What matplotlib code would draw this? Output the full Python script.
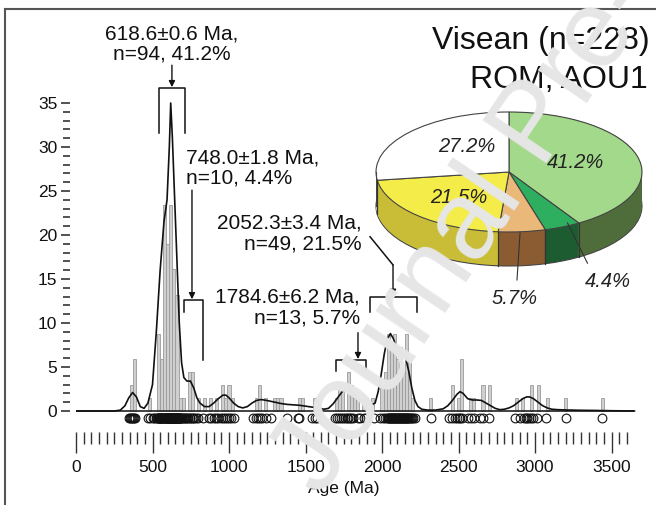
import matplotlib
matplotlib.use('Agg')
import matplotlib.pyplot as plt
from matplotlib.ticker import FixedLocator
from matplotlib.lines import Line2D
import numpy as np

plt.rcParams['font.family'] = ['Liberation Sans', 'DejaVu Sans']

W, H = 656, 505

# ---------------- data ----------------
bin_width = 20
bar_left = [350, 370, 470, 530, 550, 570, 590, 610, 630, 650, 670, 690, 730, 750,
            790, 830, 870, 910, 950, 970, 990, 1010, 1170, 1190, 1230, 1290, 1310,
            1330, 1450, 1470, 1550, 1570, 1690, 1710, 1730, 1770, 1790, 1810, 1830,
            1870, 1890, 1930, 1990, 2010, 2030, 2050, 2070, 2090, 2110, 2130, 2150,
            2170, 2190, 2310, 2450, 2490, 2510, 2570, 2590, 2650, 2690, 2870, 2910,
            2970, 3010, 3070, 3190, 3430]
bar_height = [2.9, 5.9, 1.5, 8.8, 5.9, 23.4, 19.0, 23.4, 16.1, 13.2, 1.5, 1.5, 4.4, 4.4,
              1.5, 1.5, 1.5, 1.5, 2.9, 1.5, 2.9, 1.5, 1.5, 2.9, 1.5, 1.5, 1.5,
              1.5, 1.5, 1.5, 1.5, 1.5, 1.5, 2.9, 2.9, 4.4, 2.9, 1.5, 1.5,
              1.5, 1.5, 1.5, 2.9, 4.4, 8.8, 7.3, 8.8, 5.9, 7.3, 4.4, 8.8,
              5.9, 1.5, 1.5, 2.9, 1.5, 5.9, 1.5, 1.5, 2.9, 2.9, 1.5, 1.5,
              2.9, 2.9, 1.5, 1.5, 1.5]

kde_age = [0, 250, 290, 320, 345, 370, 395, 420, 445, 470, 500, 525, 550, 575, 595,
           610, 619, 630, 645, 660, 675, 690, 705, 725, 748, 770, 790, 810, 840, 870,
           900, 930, 960, 980, 1000, 1030, 1060, 1090, 1120, 1150, 1180, 1210, 1230,
           1260, 1300, 1340, 1380, 1420, 1460, 1500, 1540, 1580, 1620, 1650, 1680,
           1710, 1740, 1770, 1790, 1810, 1840, 1870, 1900, 1930, 1955, 1975, 1995,
           2015, 2035, 2055, 2075, 2095, 2115, 2135, 2155, 2175, 2195, 2215, 2235,
           2260, 2300, 2350, 2400, 2430, 2460, 2490, 2510, 2530, 2560, 2590, 2620,
           2650, 2680, 2710, 2740, 2770, 2800, 2830, 2860, 2890, 2920, 2945, 2965,
           2990, 3020, 3050, 3080, 3110, 3150, 3200, 3300, 3400, 3500, 3650]
kde_val = [0, 0, 0.1, 0.6, 1.5, 2.1, 1.6, 0.5, 0.3, 0.9, 3.0, 9.0, 16.0, 21.5, 24.0,
           30.0, 35.0, 31.0, 24.0, 17.0, 10.0, 5.5, 3.8, 3.4, 3.4, 2.6, 1.5, 0.9, 0.5, 0.5,
           0.9, 1.4, 1.8, 1.8, 1.5, 0.9, 0.5, 0.35, 0.5, 0.9, 1.2, 1.3,
           1.25, 1.15, 1.0, 0.85, 0.75, 0.7, 0.65, 0.55, 0.45, 0.35, 0.2, 0.3, 0.8,
           1.5, 2.2, 2.5, 2.4, 2.0, 1.5, 1.2, 1.0, 0.7, 0.9, 2.2, 4.2,
           6.5, 8.2, 8.8, 8.2, 7.2, 6.6, 6.5, 6.0, 4.5, 2.6, 1.2, 0.5,
           0.2, 0.1, 0.1, 0.25, 0.6, 1.2, 1.9, 2.2, 2.0, 1.4, 1.25, 1.25,
           1.2, 0.9, 0.6, 0.3, 0.15, 0.2, 0.35, 0.6, 1.0, 1.4, 1.6, 1.6,
           1.4, 1.0, 0.6, 0.35, 0.2, 0.15, 0.12, 0.08, 0.06, 0.03, 0]

grain_ages = [345, 352, 358, 365, 372, 380, 388,
              470, 485, 500, 512, 522,
              531, 534, 537, 540, 543, 546, 549, 552, 555, 558, 561, 564, 567, 570,
              573, 576, 579, 582, 585, 588, 591, 594, 597, 598, 600, 603, 606, 608,
              609, 612, 615, 617, 618, 621, 623, 624, 627, 628, 630, 633, 635, 636,
              639, 642, 644, 645, 648, 651, 654, 655, 657, 660, 662, 663, 666, 669,
              671, 672, 675, 678, 681, 684, 688, 692, 697, 703, 710, 718,
              728, 735, 742, 748, 755, 762, 770, 785, 800, 828,
              870, 885, 900, 915, 930, 945, 960, 972, 985, 998, 1010, 1030,
              1160, 1175, 1188, 1200, 1215, 1245, 1275,
              1380, 1450, 1460, 1545, 1560, 1575,
              1690, 1705, 1720, 1735, 1748, 1760, 1770, 1780, 1790, 1800, 1812,
              1840, 1855, 1880, 1895, 1950,
              1990, 2005, 2020, 2035, 2040, 2044, 2048, 2052, 2056, 2060, 2064, 2068,
              2072, 2076, 2080, 2084, 2088, 2092, 2096, 2100, 2104, 2108, 2112, 2116,
              2120, 2124, 2128, 2132, 2136, 2140, 2144, 2148, 2152, 2156, 2160, 2164,
              2168, 2172, 2176, 2182, 2188, 2195, 2205, 2215,
              2320,
              2440, 2460, 2475, 2490, 2500, 2510, 2525, 2560, 2580, 2600, 2640, 2660, 2700,
              2870, 2900, 2925, 2940, 2950, 2960, 2975, 2990, 3010, 3070,
              3200, 3440]

x_major = [0, 500, 1000, 1500, 2000, 2500, 3000, 3500]
x_minor = [a for a in range(50, 3650, 50) if a % 500]
y_major = [0, 5, 10, 15, 20, 25, 30, 35]
y_minor = [v for v in range(0, 36) if v % 5]

peak_line1 = ["618.6±0.6 Ma,", "748.0±1.8 Ma,", "2052.3±3.4 Ma,", "1784.6±6.2 Ma,"]
peak_line2 = ["n=94, 41.2%", "n=10, 4.4%", "n=49, 21.5%", "n=13, 5.7%"]

pie_values = [41.2, 4.4, 5.7, 21.5, 27.2]
pie_labels = ['41.2%', '4.4%', '5.7%', '21.5%', '27.2%']
pie_top_colors = ['#a3d98a', '#2eaf5f', '#eab878', '#f4ec48', '#ffffff']
pie_side_colors = ['#4f6c3b', '#1c5c30', '#8b5c31', '#c9bd38', '#d0d0d0']

title_line1 = "Visean (n=228)"
title_line2 = "ROM, AOU1"
x_label = "Age (Ma)"
watermark = "Journal Pre-proof"

# ---------------- figure ----------------
fig = plt.figure(figsize=(W / 100, H / 100), dpi=100)


def px_axes(l, t, r, b):
    return fig.add_axes([l / W, 1 - b / H, (r - l) / W, (b - t) / H])


ax = px_axes(76, 85.4, 642.1, 428.6)
ax.set_xlim(0, 3700)
ax.set_ylim(-2, 37)
ax.patch.set_alpha(0)
for s in ['top', 'right']:
    ax.spines[s].set_visible(False)
ax.spines['left'].set_position(('outward', 4.5))
ax.spines['left'].set_color('none')
ax.spines['bottom'].set_position(('outward', 2.5))
ax.spines['bottom'].set_color('none')

ax.yaxis.set_major_locator(FixedLocator(y_major))
ax.yaxis.set_minor_locator(FixedLocator(y_minor))
ax.xaxis.set_major_locator(FixedLocator(x_major))
ax.xaxis.set_minor_locator(FixedLocator(x_minor))
ax.tick_params(axis='y', which='major', direction='out', length=6.5, width=1.2,
               pad=2.5, labelsize=12.5, color='#333', labelcolor='#111')
ax.tick_params(axis='y', which='minor', direction='out', length=5, width=1.2, color='#333')
ax.tick_params(axis='x', which='major', direction='out', length=15, width=1,
               pad=5, labelsize=12.5, color='#333', labelcolor='#111')
ax.tick_params(axis='x', which='minor', direction='out', length=8.5, width=1, color='#333')
ax.set_xlabel(x_label, fontsize=12.5, color='#111', labelpad=0)
ax.xaxis.set_label_coords(1750 / 3700, -0.152)

ax.bar(bar_left, bar_height, width=bin_width, align='edge', color='#cfcfcf',
       edgecolor='#9a9a9a', linewidth=0.6, zorder=1)
ax.hlines(0, kde_age[0], kde_age[-1], color='#222', lw=1.2, zorder=2)
ax.plot(kde_age, kde_val, color='#111', lw=1.2, zorder=3)
ax.plot(grain_ages, np.full(len(grain_ages), -0.8), 'o', ms=6.3, mfc='none',
        mec='#111', mew=0.8, clip_on=False, zorder=3)

lk = dict(color='#111', lw=1.1, clip_on=False, zorder=4)
ak = dict(arrowstyle='-|>', lw=1.0, color='#111', mutation_scale=9, shrinkA=0, shrinkB=0)
tk = dict(fontsize=15, color='#111', clip_on=False)

# peak 1
ax.text(627, 42.2, peak_line1[0], ha='center', va='baseline', **tk)
ax.text(627, 40.0, peak_line2[0], ha='center', va='baseline', **tk)
ax.annotate('', xy=(627, 36.8), xytext=(627, 39.3), arrowprops=ak, annotation_clip=False)
ax.plot([542, 542, 712, 712], [31.6, 36.7, 36.7, 31.6], **lk)
# peak 2
ax.text(719, 28.1, peak_line1[1], ha='left', va='baseline', **tk)
ax.text(719, 25.9, peak_line2[1], ha='left', va='baseline', **tk)
ax.annotate('', xy=(758, 12.7), xytext=(758, 25.1), arrowprops=ak, annotation_clip=False)
ax.plot([706, 706, 830, 830], [11.3, 12.6, 12.6, 5.8], **lk)
# peak 3
ax.text(1869, 20.7, peak_line1[2], ha='right', va='baseline', **tk)
ax.text(1869, 18.4, peak_line2[2], ha='right', va='baseline', **tk)
ax.plot([1922, 2072], [19.8, 16.6], **lk)
ax.annotate('', xy=(2072, 13.1), xytext=(2072, 16.6), arrowprops=ak, annotation_clip=False)
ax.plot([1922, 1922, 2229, 2229], [11.3, 13.0, 13.0, 11.3], **lk)
# peak 4
ax.text(1856, 12.3, peak_line1[3], ha='right', va='baseline', **tk)
ax.text(1856, 10.0, peak_line2[3], ha='right', va='baseline', **tk)
ax.annotate('', xy=(1843, 5.9), xytext=(1843, 8.9), arrowprops=ak, annotation_clip=False)
ax.plot([1699, 1699, 1895, 1895], [4.6, 5.8, 5.8, 4.6], **lk)

# ---------------- pie (pseudo 3D) ----------------
pax = px_axes(376, 112, 642, 268)
depth = 34 / 60
nl = 36
for k in range(nl + 1):
    off = -depth * (1 - k / nl)
    wp = dict(linewidth=0.8, edgecolor='#444') if k == 0 else dict(linewidth=0)
    pax.pie(pie_values, colors=pie_side_colors, startangle=90, counterclock=False,
            center=(0, off), radius=1, wedgeprops=wp)
wedges, _ = pax.pie(pie_values, colors=pie_top_colors, startangle=90, counterclock=False,
                    center=(0, 0), radius=1, wedgeprops=dict(linewidth=0.8, edgecolor='#444'))
for w in wedges:
    for th in (w.theta1, w.theta2):
        c, s = np.cos(np.radians(th)), np.sin(np.radians(th))
        if s < 0:
            pax.plot([c, c], [s, s - depth], color='#333', lw=0.8)
for xe in (-1, 1):
    pax.plot([xe, xe], [0, -depth], color='#444', lw=0.8)
pax.set_aspect('auto')
pax.set_xlim(-1.0, 1.0)
pax.set_ylim(-1.6, 1.0)
pax.axis('off')

plk = dict(fontsize=14.5, style='italic', color='#222', ha='center', va='center')
pax.text(0.50, 0.15, pie_labels[0], **plk)
pax.text(-0.32, 0.43, pie_labels[4], **plk)
pax.text(-0.38, -0.42, pie_labels[3], **plk)
pax.text(0.045, -2.1, pie_labels[2], clip_on=False, **plk)
pax.text(0.74, -1.83, pie_labels[1], clip_on=False, **plk)
pax.plot([0.083, 0.06], [-1.02, -1.8], color='#333', lw=0.8, clip_on=False)
pax.plot([0.44, 0.59], [-0.85, -1.52], color='#333', lw=0.8, clip_on=False)

# ---------------- titles, frame, watermark ----------------
fig.text(650 / W, 1 - 49 / H, title_line1, ha='right', va='baseline', fontsize=23, color='#111')
fig.text(648 / W, 1 - 88 / H, title_line2, ha='right', va='baseline', fontsize=23, color='#111')

fig.add_artist(Line2D([5 / W, 5 / W], [0, 1 - 9 / H], color='#555', lw=1.5))
fig.add_artist(Line2D([5 / W, 1], [1 - 9 / H, 1 - 9 / H], color='#555', lw=1.5))

fig.text(321 / W, 1 - 498 / H, watermark, rotation=56, rotation_mode='anchor',
         ha='left', va='baseline', fontsize=80, color='#e6e6e6', zorder=20)

fig.savefig('out.png', dpi=100)
